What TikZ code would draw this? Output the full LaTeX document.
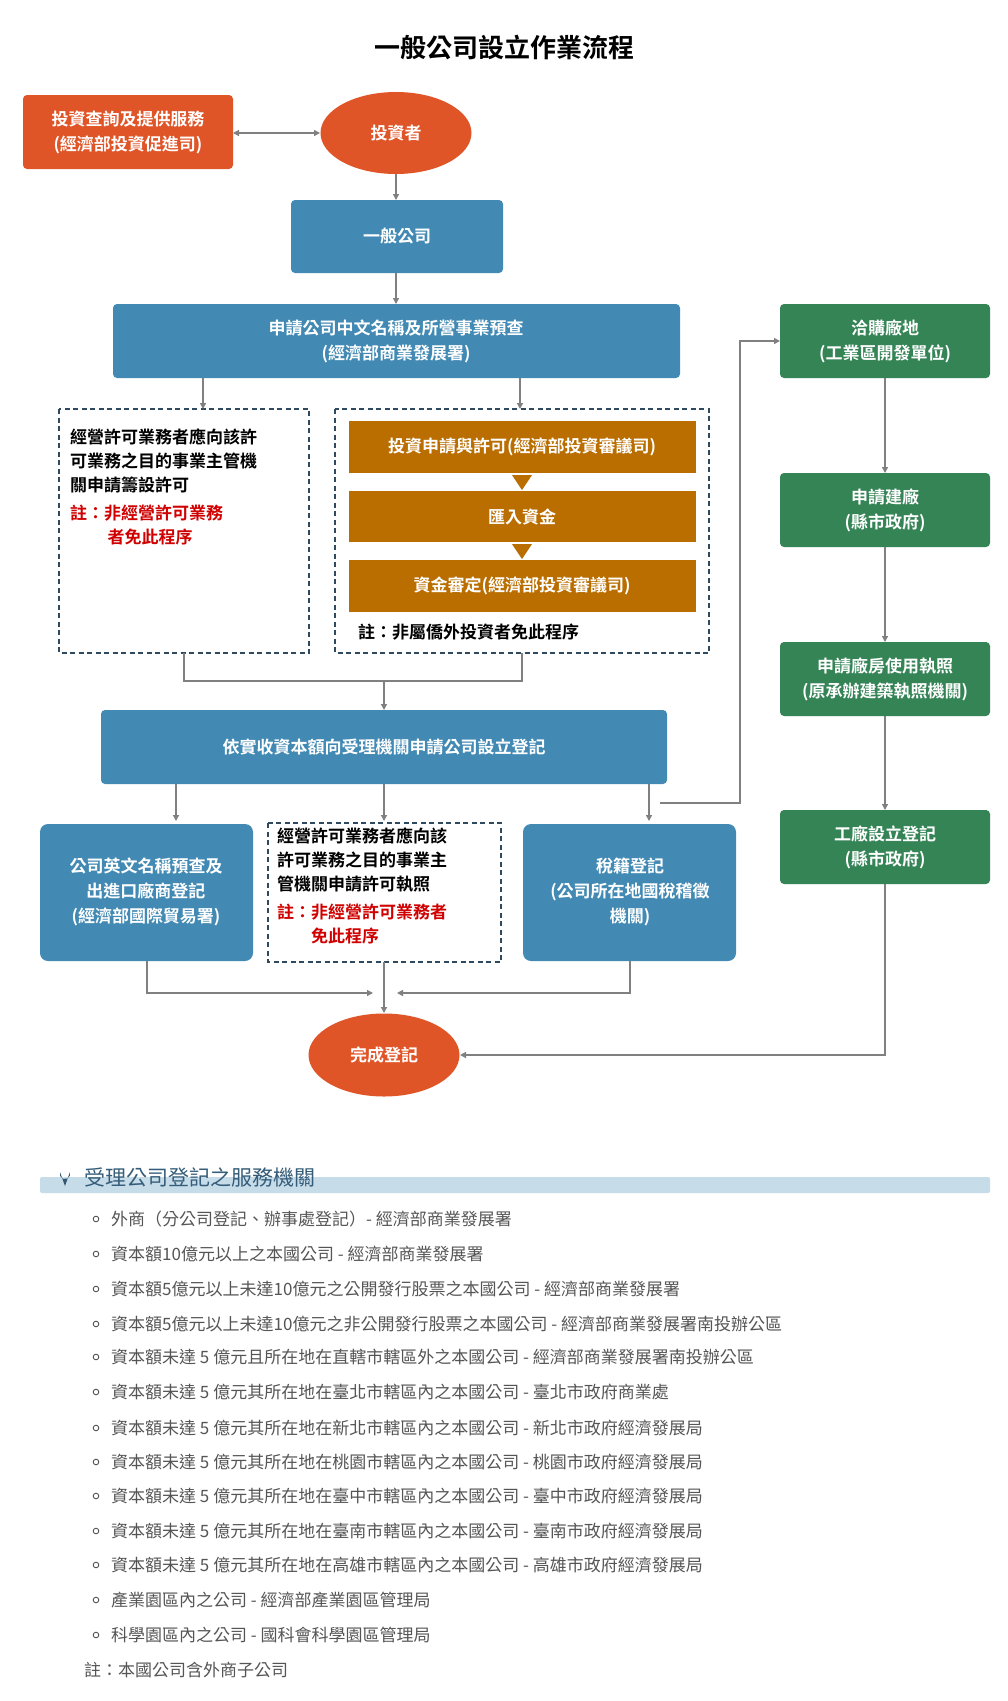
\documentclass[tikz,border=0pt]{standalone}
\usepackage{fontspec}
\setmainfont{Noto Sans CJK TC}
\newfontfamily\cjkb{Noto Sans CJK TC Bold}
\usetikzlibrary{arrows.meta,shapes.geometric}
\definecolor{cred}{HTML}{E05528}
\definecolor{cblue}{HTML}{428AB4}
\definecolor{cgreen}{HTML}{358456}
\definecolor{cbrown}{HTML}{BA6E00}
\definecolor{cdash}{HTML}{2F4A5F}
\definecolor{cline}{HTML}{808080}
\definecolor{cband}{HTML}{C6DCE9}
\definecolor{ctext}{HTML}{555555}
\definecolor{cnote}{HTML}{D00000}
\begin{document}
\begin{tikzpicture}[x=1pt,y=-1pt,
  boxt/.style={text=white,font=\cjkb\fontsize{17}{25}\selectfont,align=center},
  conn/.style={draw=cline,line width=1.3pt,-{Triangle[length=6pt,width=6pt]}},
  plain/.style={draw=cline,line width=1.3pt},
  dbox/.style={draw=cdash,line width=1.3pt,dash pattern=on 5pt off 3.5pt},
  item/.style={anchor=west,text=ctext,font=\fontsize{17}{20}\selectfont,inner sep=0}]
\useasboundingbox (0,0) rectangle (1008,1701);
\fill[white] (0,0) rectangle (1008,1701);
\node[font=\cjkb\fontsize{26}{30}\selectfont] (title) at (504,47) {一般公司設立作業流程};
% top
\fill[cred,rounded corners=4pt] (23,95) rectangle (233,169);
\node[boxt] (svc) at (128,132) {投資查詢及提供服務\\(經濟部投資促進司)};
\coordinate (svcE) at (233,133);
\fill[cred] (396,133) ellipse (75.5 and 41);
\node[boxt] (inv) at (396,133) {投資者};
\coordinate (invW) at (320,133);
\coordinate (invS) at (396,174);
\draw[conn,{Triangle[length=6pt,width=6pt]}-{Triangle[length=6pt,width=6pt]}] (svcE) -- (invW);
\fill[cblue,rounded corners=4pt] (291,200) rectangle (503,273);
\node[boxt] (gen) at (397,236) {一般公司};
\draw[conn] (invS) -- (396,200);
\fill[cblue,rounded corners=4pt] (113,304) rectangle (680,378);
\node[boxt] (pre) at (396,341) {申請公司中文名稱及所營事業預查\\(經濟部商業發展署)};
\draw[conn] (396,273) -- (396,304);
% dashed boxes
\draw[dbox] (59,409) rectangle (309,653);
\node[anchor=north west,align=left,inner sep=0,font=\cjkb\fontsize{17}{24}\selectfont] (lic) at (70,429) {經營許可業務者應向該許\\可業務之目的事業主管機\\關申請籌設許可};
\node[anchor=north west,align=left,inner sep=0,text=cnote,font=\cjkb\fontsize{17}{24}\selectfont] (licn) at (70,505) {註：非經營許可業務\\\hspace*{2.2em}者免此程序};
\draw[dbox] (335,409) rectangle (709,653);
\fill[cbrown] (349,421) rectangle (696,473);
\node[boxt] (o1) at (522,447) {投資申請與許可(經濟部投資審議司)};
\fill[cbrown] (349,491) rectangle (696,542);
\node[boxt] (o2) at (522,517) {匯入資金};
\fill[cbrown] (349,560) rectangle (696,612);
\node[boxt] (o3) at (522,586) {資金審定(經濟部投資審議司)};
\fill[cbrown] (512,475) -- (532,475) -- (522,490) -- cycle;
\fill[cbrown] (512,544) -- (532,544) -- (522,559) -- cycle;
\node[anchor=west,inner sep=0,font=\cjkb\fontsize{17}{20}\selectfont] (fn) at (358,632) {註：非屬僑外投資者免此程序};
\draw[conn] (203,378) -- (203,409);
\draw[conn] (520,378) -- (520,409);
\draw[plain] (184,653) -- (184,681) -- (522,681) -- (522,653);
% registration
\fill[cblue,rounded corners=4pt] (101,710) rectangle (667,784);
\node[boxt] (reg) at (384,747) {依實收資本額向受理機關申請公司設立登記};
\draw[conn] (384,681) -- (384,710);
% bottom row
\fill[cblue,rounded corners=8pt] (40,824) rectangle (253,961);
\node[boxt] (eng) at (146,892) {公司英文名稱預查及\\出進口廠商登記\\(經濟部國際貿易署)};
\draw[dbox] (268,823) rectangle (501,962);
\node[anchor=north west,align=left,inner sep=0,font=\cjkb\fontsize{17}{24}\selectfont] (lic2) at (277,828) {經營許可業務者應向該\\許可業務之目的事業主\\管機關申請許可執照};
\node[anchor=north west,align=left,inner sep=0,text=cnote,font=\cjkb\fontsize{17}{24}\selectfont] (lic2n) at (277,904) {註：非經營許可業務者\\\hspace*{2em}免此程序};
\fill[cblue,rounded corners=8pt] (523,824) rectangle (736,961);
\node[boxt] (tax) at (630,892) {稅籍登記\\(公司所在地國稅稽徵\\機關)};
\draw[conn] (176,784) -- (176,821);
\draw[conn] (384,784) -- (384,821);
\draw[conn] (649,784) -- (649,821);
% done
\fill[cred] (384,1055) ellipse (75.5 and 41.5);
\node[boxt] (done) at (384,1055) {完成登記};
\draw[conn] (384,962) -- (384,1013);
\draw[conn] (147,961) -- (147,993) -- (373,993);
\draw[conn] (630,961) -- (630,993) -- (397,993);
% green column
\fill[cgreen,rounded corners=4pt] (780,304) rectangle (990,378);
\node[boxt] (g1) at (885,341) {洽購廠地\\(工業區開發單位)};
\fill[cgreen,rounded corners=4pt] (780,473) rectangle (990,547);
\node[boxt] (g2) at (885,510) {申請建廠\\(縣市政府)};
\fill[cgreen,rounded corners=4pt] (780,642) rectangle (990,716);
\node[boxt] (g3) at (885,679) {申請廠房使用執照\\(原承辦建築執照機關)};
\fill[cgreen,rounded corners=4pt] (780,810) rectangle (990,884);
\node[boxt] (g4) at (885,847) {工廠設立登記\\(縣市政府)};
\draw[conn] (885,378) -- (885,473);
\draw[conn] (885,547) -- (885,642);
\draw[conn] (885,716) -- (885,810);
\draw[conn] (660,803) -- (740,803) -- (740,341) -- (780,341);
\draw[conn] (885,884) -- (885,1055) -- (460,1055);
% service list
\fill[cband,rounded corners=2pt] (40,1177) rectangle (990,1193);
\fill[cdash!80!cblue] (65,1186) -- (60,1172) arc[start angle=200,end angle=-20,radius=5.3] -- cycle;
\fill[white] (65,1167) circle (2);
\node[anchor=west,inner sep=0,text=cdash!70!cblue,font=\fontsize{21}{24}\selectfont] (st) at (84,1177) {受理公司登記之服務機關};
\foreach \y/\t in {1219/{外商（分公司登記、辦事處登記）- 經濟部商業發展署},
1254/{資本額10億元以上之本國公司 - 經濟部商業發展署},
1289/{資本額5億元以上未達10億元之公開發行股票之本國公司 - 經濟部商業發展署},
1324/{資本額5億元以上未達10億元之非公開發行股票之本國公司 - 經濟部商業發展署南投辦公區},
1357/{資本額未達 5 億元且所在地在直轄市轄區外之本國公司 - 經濟部商業發展署南投辦公區},
1392/{資本額未達 5 億元其所在地在臺北市轄區內之本國公司 - 臺北市政府商業處},
1428/{資本額未達 5 億元其所在地在新北市轄區內之本國公司 - 新北市政府經濟發展局},
1462/{資本額未達 5 億元其所在地在桃園市轄區內之本國公司 - 桃園市政府經濟發展局},
1496/{資本額未達 5 億元其所在地在臺中市轄區內之本國公司 - 臺中市政府經濟發展局},
1531/{資本額未達 5 億元其所在地在臺南市轄區內之本國公司 - 臺南市政府經濟發展局},
1565/{資本額未達 5 億元其所在地在高雄市轄區內之本國公司 - 高雄市政府經濟發展局},
1600/{產業園區內之公司 - 經濟部產業園區管理局},
1635/{科學園區內之公司 - 國科會科學園區管理局}}{
  \draw[ctext,line width=0.9pt] (96,\y) circle (2.8);
  \node[item] at (111,\y) {\t};
}
\node[item] (note) at (84,1670) {註：本國公司含外商子公司};
\end{tikzpicture}
\end{document}
